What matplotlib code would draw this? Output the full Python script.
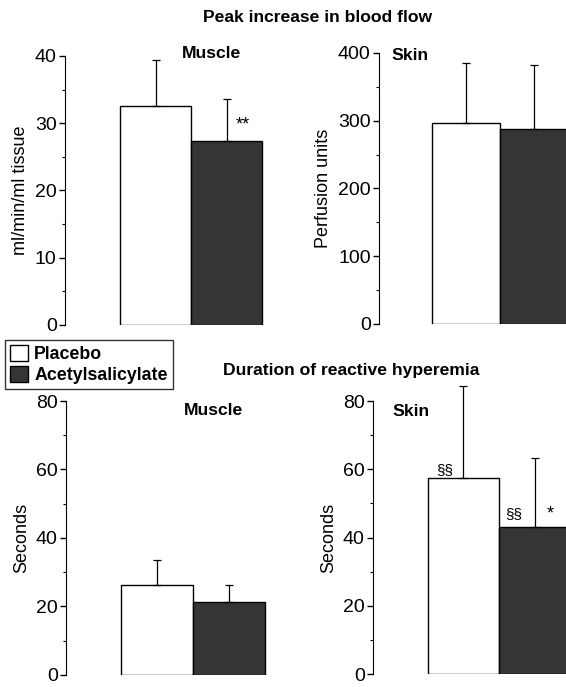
import matplotlib.pyplot as plt
from matplotlib.patches import Patch
from matplotlib.ticker import MultipleLocator

plt.rcParams['font.family'] = ['Liberation Sans', 'DejaVu Sans']

groups = ['Placebo', 'Acetylsalicylate']
# peak increase in blood flow
muscle_peak = [32.6, 27.4]
muscle_peak_err = [6.8, 6.2]
skin_peak = [296, 288]
skin_peak_err = [89, 94]
# duration of reactive hyperemia
muscle_dur = [26.3, 21.4]
muscle_dur_err = [7.3, 4.9]
skin_dur = [57.5, 43.1]
skin_dur_err = [26.9, 20.2]

colors = ['white', '#353535']

fig = plt.figure(figsize=(5.66, 6.87), dpi=100)

def panel(rect, xlim, vals, errs, ymax, major, minor, ylabel, title, title_x, title_y, title_ha):
    ax = fig.add_axes(rect)
    ax.bar([0, 1], vals, width=1.0, color=colors, edgecolor='black', linewidth=1.0)
    ax.errorbar([0, 1], vals, yerr=[[0, 0], errs], fmt='none', ecolor='black',
                elinewidth=0.9, capsize=3, capthick=0.9, clip_on=False)
    ax.set_xlim(*xlim)
    ax.set_ylim(0, ymax)
    ax.yaxis.set_major_locator(MultipleLocator(major))
    ax.yaxis.set_minor_locator(MultipleLocator(minor))
    for s in ['top', 'right', 'bottom']:
        ax.spines[s].set_visible(False)
    ax.set_xticks([])
    ax.tick_params(axis='y', which='major', length=4, labelsize=14, width=1, pad=2)
    ax.tick_params(axis='y', which='minor', length=2, width=0.8)
    ax.set_ylabel(ylabel, fontsize=13, labelpad=4)
    ax.text(title_x, title_y, title, fontsize=12.6, fontweight='bold', ha=title_ha, va='center')
    return ax

ax1 = panel([65/566, 0.527, 225/566, 0.3915], (-1.28, 1.89), muscle_peak, muscle_peak_err,
            40, 10, 5, 'ml/min/ml tissue', 'Muscle', 0.78, 40.4, 'center')
ax1.text(1.23, 29.7, '**', ha='center', va='center', fontsize=13)

ax2 = panel([379/566, 0.5284, 187/566, 0.3945], (-1.28, 1.47), skin_peak, skin_peak_err,
            400, 100, 50, 'Perfusion units', 'Skin', -1.1, 397, 'left')

ax3 = panel([66/566, 0.0175, 224/566, 0.3988], (-1.27, 1.85), muscle_dur, muscle_dur_err,
            80, 20, 10, 'Seconds', 'Muscle', 0.78, 77.3, 'center')

ax4 = panel([373/566, 0.0189, 193/566, 0.3974], (-1.27, 1.44), skin_dur, skin_dur_err,
            80, 20, 10, 'Seconds', 'Skin', -1.0, 77.0, 'left')
ax4.text(-0.27, 59.8, '§§', ha='center', va='center', fontsize=11)
ax4.text(0.7, 47, '§§', ha='center', va='center', fontsize=11)
ax4.text(1.22, 47, '*', ha='center', va='center', fontsize=13)

fig.text(318/566, 1 - 18/687, 'Peak increase in blood flow', ha='center', va='center',
         fontsize=12.6, fontweight='bold')
fig.text(351/566, 1 - 370/687, 'Duration of reactive hyperemia', ha='center', va='center',
         fontsize=12.6, fontweight='bold')

handles = [Patch(facecolor=c, edgecolor='black', label=g) for c, g in zip(colors, groups)]
leg = fig.legend(handles=handles, loc='upper left', bbox_to_anchor=(5/566, 1 - 340/687),
                 frameon=True, fancybox=False, edgecolor='black',
                 prop={'weight': 'bold', 'size': 12.8}, handlelength=1.0, handleheight=1.0,
                 handletextpad=0.35, borderpad=0.3, labelspacing=0.15, borderaxespad=0)
leg.get_frame().set_linewidth(1.0)

fig.savefig('out.png', dpi=100)
